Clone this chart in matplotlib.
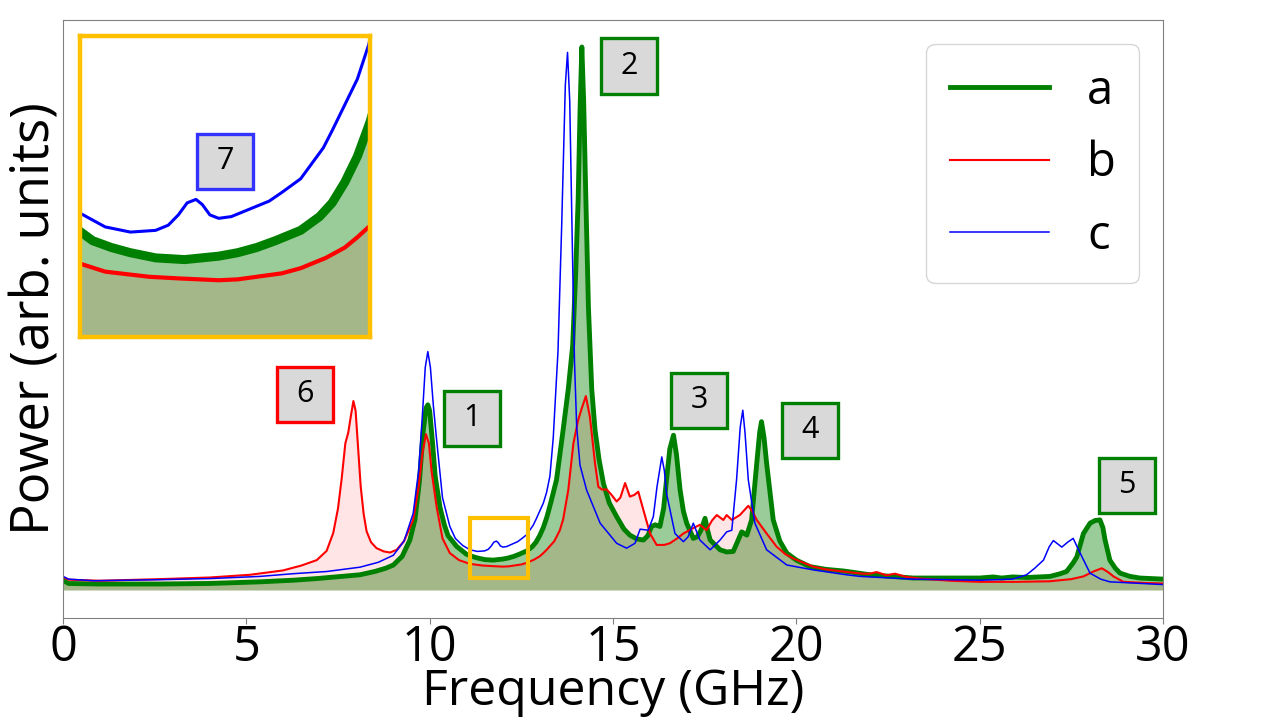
import numpy as np
import matplotlib.pyplot as plt
from matplotlib.patches import Rectangle

plt.rcParams['font.family'] = ['Open Sans', 'DejaVu Sans']

# spectra: (frequency GHz, power arb. units)
a_pts = [(0, 0.018), (0.15, 0.012), (1.0, 0.011), (2.65, 0.011), (4.0, 0.012), (5.37, 0.015),
         (6.28, 0.018), (6.92, 0.021), (7.6, 0.025), (8.1, 0.028), (8.5, 0.034), (8.8, 0.04),
         (9.01, 0.046), (9.25, 0.062), (9.46, 0.092), (9.6, 0.13), (9.72, 0.2), (9.82, 0.29),
         (9.9, 0.335), (9.95, 0.341), (10.0, 0.33), (10.08, 0.27), (10.15, 0.21), (10.28, 0.153),
         (10.4, 0.12), (10.5, 0.1), (10.74, 0.08), (11.0, 0.066), (11.15, 0.062), (11.3, 0.059),
         (11.5, 0.056), (11.73, 0.055), (12.0, 0.057), (12.15, 0.059), (12.3, 0.062), (12.45, 0.066),
         (12.65, 0.072), (12.8, 0.08), (12.9, 0.088), (13.0, 0.1), (13.1, 0.115), (13.2, 0.135),
         (13.3, 0.16), (13.46, 0.203), (13.64, 0.295), (13.78, 0.37), (13.9, 0.45), (13.98, 0.58),
         (14.05, 0.72), (14.1, 0.88), (14.15, 1.0), (14.2, 0.9), (14.26, 0.72), (14.33, 0.52),
         (14.42, 0.37), (14.51, 0.295), (14.62, 0.24), (14.74, 0.196), (14.9, 0.16), (15.1, 0.135),
         (15.3, 0.112), (15.46, 0.101), (15.65, 0.094), (15.83, 0.092), (15.95, 0.1), (16.05, 0.117),
         (16.15, 0.12), (16.28, 0.117), (16.38, 0.15), (16.46, 0.203), (16.55, 0.26), (16.65, 0.285),
         (16.73, 0.25), (16.83, 0.184), (16.92, 0.145), (17.01, 0.123), (17.19, 0.095), (17.3, 0.098),
         (17.4, 0.11), (17.51, 0.132), (17.58, 0.11), (17.65, 0.092), (17.92, 0.074), (18.1, 0.07),
         (18.28, 0.071), (18.4, 0.09), (18.51, 0.107), (18.65, 0.101), (18.78, 0.129), (18.92, 0.233),
         (19.0, 0.29), (19.05, 0.31), (19.12, 0.28), (19.19, 0.233), (19.37, 0.129), (19.55, 0.09),
         (19.74, 0.068), (20.0, 0.055), (20.37, 0.043), (20.8, 0.038), (21.28, 0.035), (21.6, 0.032),
         (22.0, 0.028), (22.6, 0.025), (23.19, 0.022), (24.2, 0.022), (25.0, 0.022), (25.37, 0.024),
         (25.6, 0.022), (25.9, 0.024), (26.3, 0.023), (26.92, 0.025), (27.2, 0.03), (27.37, 0.034),
         (27.55, 0.05), (27.65, 0.061), (27.83, 0.104), (28.01, 0.123), (28.15, 0.128), (28.28, 0.129),
         (28.36, 0.115), (28.42, 0.092), (28.55, 0.055), (28.7, 0.04), (28.83, 0.031), (29.1, 0.025),
         (29.37, 0.022), (30.0, 0.02)]

b_pts = [(0, 0.024), (0.15, 0.019), (1.0, 0.017), (2.65, 0.02), (4.0, 0.023), (5.1, 0.028),
         (6.0, 0.036), (6.5, 0.045), (6.92, 0.055), (7.19, 0.072), (7.37, 0.105), (7.5, 0.15),
         (7.6, 0.205), (7.7, 0.27), (7.78, 0.29), (7.85, 0.32), (7.92, 0.348), (7.98, 0.33),
         (8.05, 0.26), (8.12, 0.19), (8.2, 0.14), (8.28, 0.108), (8.4, 0.088), (8.55, 0.077),
         (8.75, 0.071), (8.92, 0.069), (9.1, 0.074), (9.3, 0.09), (9.55, 0.129), (9.7, 0.19),
         (9.8, 0.25), (9.9, 0.287), (9.98, 0.27), (10.05, 0.22), (10.19, 0.153), (10.35, 0.095),
         (10.55, 0.068), (10.8, 0.055), (11.1, 0.048), (11.45, 0.045), (11.7, 0.044), (12.0, 0.043),
         (12.15, 0.0435), (12.3, 0.045), (12.5, 0.047), (12.65, 0.05), (12.85, 0.056), (13.0, 0.062),
         (13.1, 0.068), (13.19, 0.074), (13.4, 0.09), (13.55, 0.11), (13.64, 0.13),
         (13.78, 0.184), (13.92, 0.27), (14.05, 0.313), (14.15, 0.335), (14.26, 0.357), (14.37, 0.319),
         (14.51, 0.233), (14.6, 0.19), (14.7, 0.185), (14.83, 0.185), (14.95, 0.176), (15.1, 0.163),
         (15.2, 0.17), (15.33, 0.197), (15.46, 0.172), (15.58, 0.175), (15.69, 0.181), (15.83, 0.147),
         (16.01, 0.104), (16.19, 0.083), (16.4, 0.083), (16.55, 0.086), (16.75, 0.095), (16.92, 0.104),
         (17.19, 0.114), (17.37, 0.12), (17.55, 0.11), (17.7, 0.128), (17.83, 0.138), (18.01, 0.129),
         (18.1, 0.138), (18.24, 0.129), (18.46, 0.138), (18.69, 0.155), (18.8, 0.145), (18.92, 0.129),
         (19.19, 0.104), (19.46, 0.08), (19.7, 0.066), (19.92, 0.058), (20.2, 0.05), (20.46, 0.043),
         (20.8, 0.038), (21.28, 0.034), (21.8, 0.03), (22.0, 0.03), (22.19, 0.033), (22.46, 0.027),
         (22.69, 0.03), (23.0, 0.024), (23.37, 0.021), (24.2, 0.017), (25.0, 0.015), (26.0, 0.015),
         (26.9, 0.016), (27.5, 0.02), (27.83, 0.025), (28.1, 0.034), (28.33, 0.04), (28.5, 0.033),
         (28.65, 0.025), (28.92, 0.015), (29.5, 0.013), (30.0, 0.012)]

c_pts = [(0, 0.025), (0.15, 0.02), (0.83, 0.017), (2.65, 0.019), (4.0, 0.021), (5.37, 0.025),
         (6.28, 0.03), (7.19, 0.034), (8.1, 0.042), (8.6, 0.051), (9.01, 0.064), (9.3, 0.09),
         (9.55, 0.141), (9.7, 0.22), (9.8, 0.32), (9.88, 0.41), (9.95, 0.439), (10.02, 0.41),
         (10.1, 0.34), (10.19, 0.276), (10.35, 0.17), (10.55, 0.117), (10.7, 0.095), (10.9, 0.082),
         (11.1, 0.074), (11.3, 0.071), (11.5, 0.072), (11.6, 0.075), (11.68, 0.081), (11.75, 0.088),
         (11.82, 0.09), (11.87, 0.087), (11.93, 0.081), (12.0, 0.079), (12.1, 0.08), (12.2, 0.083),
         (12.3, 0.086), (12.4, 0.089), (12.5, 0.094), (12.65, 0.102), (12.75, 0.112), (12.83, 0.12),
         (12.9, 0.13), (13.0, 0.145), (13.1, 0.16), (13.19, 0.18), (13.28, 0.21), (13.37, 0.28),
         (13.5, 0.44), (13.6, 0.67), (13.7, 0.93), (13.76, 0.99), (13.82, 0.9), (13.9, 0.6),
         (13.95, 0.42), (14.01, 0.3), (14.1, 0.23), (14.28, 0.184), (14.65, 0.123), (15.1, 0.086),
         (15.37, 0.077), (15.6, 0.086), (15.74, 0.112), (15.96, 0.11), (16.1, 0.135), (16.2, 0.19),
         (16.33, 0.245), (16.4, 0.22), (16.46, 0.178), (16.69, 0.104), (16.92, 0.089), (17.05, 0.098),
         (17.19, 0.123), (17.37, 0.092), (17.65, 0.074), (17.92, 0.092), (18.1, 0.107), (18.24, 0.11),
         (18.37, 0.203), (18.47, 0.3), (18.54, 0.331), (18.6, 0.29), (18.69, 0.203), (18.87, 0.123),
         (19.19, 0.074), (19.74, 0.046), (20.46, 0.037), (21.37, 0.028), (21.74, 0.025), (23.19, 0.02),
         (25.0, 0.018), (25.9, 0.02), (26.28, 0.028), (26.5, 0.04), (26.74, 0.055), (26.9, 0.08),
         (27.01, 0.091), (27.24, 0.079), (27.4, 0.088), (27.55, 0.095), (27.74, 0.068), (28.01, 0.031),
         (28.3, 0.02), (28.55, 0.015), (30.0, 0.01)]

labels = ['a', 'b', 'c']
xticks = [0, 5, 10, 15, 20, 25, 30]

fa, pa = np.array(a_pts).T
fb, pb = np.array(b_pts).T
fc, pc = np.array(c_pts).T

GREEN, RED, BLUE, GOLD = '#008000', '#ff0000', '#0000ff', '#ffc000'

fig = plt.figure(figsize=(12.8, 7.2), dpi=100)
ax = fig.add_axes([63/1280, 102/720, 1100/1280, 598/720])


def draw(axis, lw_a, lw_b, lw_c):
    axis.fill_between(fa, 0, pa, color=GREEN, alpha=0.4, lw=0)
    axis.fill_between(fb, 0, pb, color=RED, alpha=0.1, lw=0)
    la, = axis.plot(fa, pa, color=GREEN, lw=lw_a, label=labels[0])
    lb, = axis.plot(fb, pb, color=RED, lw=lw_b, label=labels[1])
    lc, = axis.plot(fc, pc, color=BLUE, lw=lw_c, label=labels[2])
    return la, lb, lc


draw(ax, 3.5, 1.5, 1.1)
ax.set_xlim(0, 30)
ax.set_ylim(-0.0516, 1.0497)
ax.set_xticks(xticks)
ax.set_yticks([])
ax.tick_params(axis='x', labelsize=35, length=4, color='#808080', pad=0)
for s in ax.spines.values():
    s.set_color('#808080')
ax.set_xlabel('Frequency (GHz)', fontsize=36, labelpad=-4)
ax.set_ylabel('Power (arb. units)', fontsize=38, labelpad=0)

ax.legend(loc='upper right', fontsize=34, handlelength=2.1, labelspacing=0.53,
          handletextpad=0.8, borderpad=0.5)

# zoom box on the small bump
ax.add_patch(Rectangle((11.1, 0.022), 1.58, 0.111, fill=False, ec=GOLD, lw=3, zorder=5))

# inset
ins = fig.add_axes([80/1280, 383/720, 290/1280, 301/720])
draw(ins, 6.5, 3, 2.2)
ins.set_xlim(10.9, 13.2)
ins.set_ylim(0.01, 0.185)
ins.set_xticks([])
ins.set_yticks([])
for s in ins.spines.values():
    s.set_color(GOLD)
    s.set_linewidth(3.2)

# numbered peak boxes (centre in pixels, label, edge colour)
marks = [(472, 418, '1', GREEN), (629, 66, '2', GREEN), (699, 400, '3', GREEN),
         (810, 430, '4', GREEN), (1127, 485, '5', GREEN), (305, 394, '6', RED),
         (225, 161, '7', '#3333ff')]
bw, bh = 56, 55
for cx, cy, t, col in marks:
    fig.add_artist(Rectangle(((cx - bw/2)/1280, 1 - (cy + bh/2)/720), bw/1280, bh/720,
                             transform=fig.transFigure, fc='#d9d9d9', ec=col, lw=2.4, zorder=10))
    fig.text(cx/1280, 1 - cy/720, t, fontsize=22, ha='center', va='center', zorder=11)

fig.savefig('out.png', dpi=100)
